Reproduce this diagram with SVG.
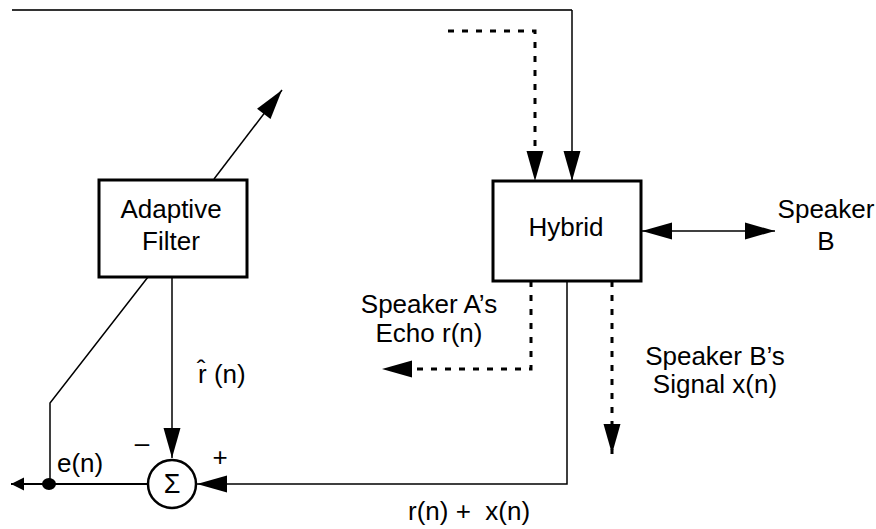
<svg xmlns="http://www.w3.org/2000/svg" width="876" height="529" viewBox="0 0 876 529">
<style>
.box{fill:#fff;stroke:#000;stroke-width:3}
.ln{fill:none;stroke:#000;stroke-width:1.5}
.dot{fill:none;stroke:#000;stroke-width:3;stroke-dasharray:6 8}
.t{font-family:"Liberation Sans",Arial,sans-serif;font-size:26px;fill:#000}
.m{text-anchor:middle}
</style>
<defs>
<marker id="ah" markerUnits="userSpaceOnUse" markerWidth="31" markerHeight="18" refX="30" refY="8.5" orient="auto-start-reverse" overflow="visible">
<path d="M0,0 L30,8.5 L0,17 Z" fill="#000"/>
</marker>
<marker id="ahs" markerUnits="userSpaceOnUse" markerWidth="14" markerHeight="14" refX="13" refY="6.5" orient="auto" overflow="visible">
<path d="M0,0 L13,6.5 L0,13 Z" fill="#000"/>
</marker>
</defs>
<rect width="876" height="529" fill="#fff"/>
<g id="connectors">
<path d="M12,10 H572" fill="none" stroke="#333" stroke-width="2"/>
<path class="ln" d="M572,10 V181" marker-end="url(#ah)"/>
<path class="dot" d="M448,31 H535 V181" marker-end="url(#ah)"/>
<path class="ln" d="M214,179 L282,90" marker-end="url(#ah)"/>
<path class="ln" d="M642,231 H775" marker-start="url(#ah)" marker-end="url(#ah)"/>
<path class="dot" d="M531,281 V369 H382" marker-end="url(#ah)"/>
<path class="dot" d="M612,281 V454" marker-end="url(#ah)"/>
<path class="ln" d="M567,281 V484 H197" marker-end="url(#ah)"/>
<path class="ln" d="M172,277 V458" marker-end="url(#ah)"/>
<path class="ln" d="M148,277 L50,403 V484"/>
<path d="M148,484 H11" fill="none" stroke="#000" stroke-width="2" marker-end="url(#ahs)"/>
<ellipse cx="49" cy="484" rx="7" ry="6" fill="#000"/>
</g>
<g id="adaptive-filter">
<rect class="box" x="99" y="180" width="148" height="97"/>
<text class="t m" x="171" y="218">Adaptive</text>
<text class="t m" x="171" y="250">Filter</text>
</g>
<g id="hybrid">
<rect class="box" x="493" y="181" width="148" height="100"/>
<text class="t m" x="566" y="236">Hybrid</text>
</g>
<g id="sum">
<circle cx="172" cy="484" r="24" fill="#fff" stroke="#000" stroke-width="2.5"/>
<text class="t m" x="172" y="493" style="font-size:27px">Σ</text>
</g>
<g id="labels">
<text class="t" x="198" y="383">r̂ (n)</text>
<text class="t m" x="142" y="452">–</text>
<text class="t m" x="220" y="466">+</text>
<text class="t" x="57" y="472">e(n)</text>
<text class="t m" x="429" y="313">Speaker A’s</text>
<text class="t m" x="429" y="342">Echo r(n)</text>
<text class="t m" x="715" y="365">Speaker B’s</text>
<text class="t m" x="715" y="393">Signal x(n)</text>
<text class="t m" x="826" y="218">Speaker</text>
<text class="t m" x="826" y="250">B</text>
<text class="t" x="408" y="520" style="white-space:pre">r(n) +  x(n)</text>
</g>
</svg>
